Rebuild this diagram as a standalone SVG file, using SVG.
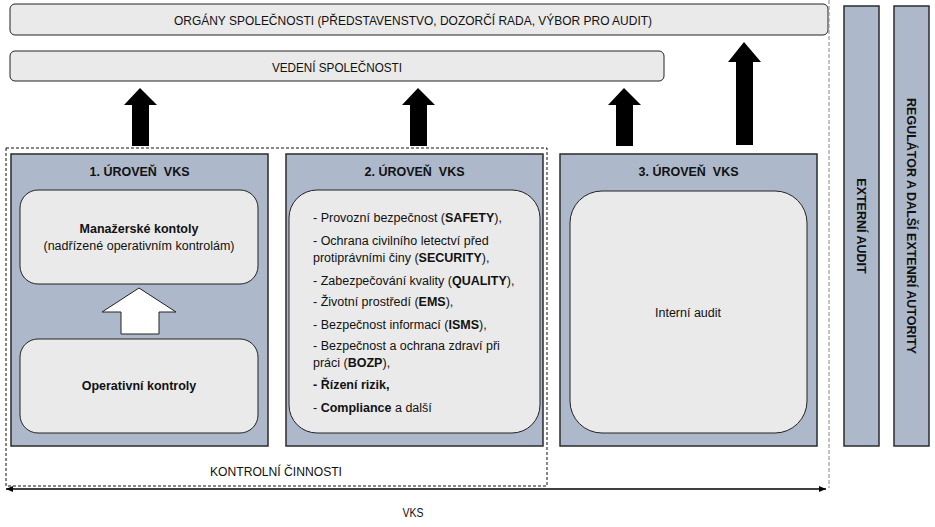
<svg xmlns="http://www.w3.org/2000/svg" width="935" height="527" viewBox="0 0 935 527">
<style>
.top{fill:#eaeaea;stroke:#222;stroke-width:1}
.lvl{fill:#adb9ca;stroke:#2b2b2b;stroke-width:1.5}
.in{fill:#eaeaea;stroke:#222;stroke-width:1}
.nar{font-family:"Liberation Sans Narrow","Liberation Sans",Arial,sans-serif;font-size:13px;fill:#111}
.t{font-family:"Liberation Sans",Arial,sans-serif;font-size:12.5px;fill:#111}
.b{font-weight:bold}
.blk{fill:#000}
</style>
<defs>
<marker id="ah" markerWidth="8" markerHeight="8" refX="7" refY="4" orient="auto-start-reverse" markerUnits="userSpaceOnUse">
<path d="M0,1 L7,4 L0,7 Z" fill="#000"/>
</marker>
</defs>
<g id="organy">
<rect class="top" x="10" y="4" width="818" height="31" rx="5"/>
<text class="nar" x="413" y="24.5" text-anchor="middle" textLength="478" lengthAdjust="spacingAndGlyphs">ORGÁNY SPOLEČNOSTI (PŘEDSTAVENSTVO, DOZORČÍ RADA, VÝBOR PRO AUDIT)</text>
</g>
<g id="vedeni">
<rect class="top" x="10" y="51" width="654" height="30" rx="5"/>
<text class="nar" x="337" y="71.5" text-anchor="middle" textLength="130" lengthAdjust="spacingAndGlyphs">VEDENÍ SPOLEČNOSTI</text>
</g>
<g id="kontrolni">
<rect x="6" y="148" width="541" height="338" fill="none" stroke="#111" stroke-width="1" stroke-dasharray="3,2"/>
<text class="nar" x="276" y="475.5" text-anchor="middle" textLength="132" lengthAdjust="spacingAndGlyphs">KONTROLNÍ ČINNOSTI</text>
</g>
<g id="uroven1">
<rect class="lvl" x="11" y="154" width="257" height="292"/>
<text class="t b" x="139.5" y="176" text-anchor="middle" xml:space="preserve">1. ÚROVEŇ  VKS</text>
<rect class="in" x="20" y="190" width="238" height="94" rx="18"/>
<text class="t b" x="139" y="233" text-anchor="middle">Manažerské kontoly</text>
<text class="t" x="139" y="250" text-anchor="middle">(nadřízené operativním kontrolám)</text>
<path d="M139,288 L176,312 L159,312 L159,334 L121,334 L121,312 L102,312 Z" fill="#fff" stroke="#222" stroke-width="1"/>
<rect class="in" x="20" y="339" width="238" height="94" rx="18"/>
<text class="t b" x="139" y="390" text-anchor="middle">Operativní kontroly</text>
</g>
<g id="uroven2">
<rect class="lvl" x="286" y="154" width="257" height="292"/>
<text class="t b" x="414.5" y="176" text-anchor="middle" xml:space="preserve">2. ÚROVEŇ  VKS</text>
<rect class="in" x="289" y="190" width="251" height="243" rx="28"/>
<g class="t">
<text x="313" y="222">- Provozní bezpečnost (<tspan class="b">SAFETY</tspan>),</text>
<text x="313" y="245">- Ochrana civilního letectví před</text>
<text x="313" y="262">protiprávními činy (<tspan class="b">SECURITY</tspan>),</text>
<text x="313" y="285">- Zabezpečování kvality (<tspan class="b">QUALITY</tspan>),</text>
<text x="313" y="306">- Životní prostředí (<tspan class="b">EMS</tspan>),</text>
<text x="313" y="329">- Bezpečnost informací (<tspan class="b">ISMS</tspan>),</text>
<text x="313" y="350">- Bezpečnost a ochrana zdraví při</text>
<text x="313" y="367">práci (<tspan class="b">BOZP</tspan>),</text>
<text x="313" y="389" class="b">- Řízení rizik,</text>
<text x="313" y="412">- <tspan class="b">Compliance</tspan> a další</text>
</g>
</g>
<g id="uroven3">
<rect class="lvl" x="560" y="154" width="257" height="292"/>
<text class="t b" x="688.5" y="176" text-anchor="middle" xml:space="preserve">3. ÚROVEŇ  VKS</text>
<rect class="in" x="570" y="191" width="237" height="242" rx="32"/>
<text class="t" x="688" y="317" text-anchor="middle">Interní audit</text>
</g>
<g id="externi-audit">
<rect class="lvl" x="844" y="6" width="35" height="440"/>
<text class="t b" transform="translate(857,226) rotate(90)" text-anchor="middle">EXTERNÍ AUDIT</text>
</g>
<g id="regulator">
<rect class="lvl" x="894" y="6" width="35" height="440"/>
<text class="t b" transform="translate(907,226) rotate(90)" text-anchor="middle">REGULÁTOR A DALŠÍ EXTENRÍ AUTORITY</text>
</g>
<g id="connectors">
<line x1="829" y1="0" x2="829" y2="488" stroke="#888" stroke-width="1" stroke-dasharray="4,2"/>
<path class="blk" d="M140,88 L157,105 L149,105 L149,146 L132,146 L132,105 L124,105 Z"/>
<path class="blk" d="M418,88 L435,105 L427,105 L427,146 L410,146 L410,105 L402,105 Z"/>
<path class="blk" d="M624,88 L641,105 L633,105 L633,146 L616,146 L616,105 L608,105 Z"/>
<path class="blk" d="M744,42 L761,62 L753,62 L753,145 L736,145 L736,62 L728,62 Z"/>
<line x1="6" y1="489" x2="826" y2="489" stroke="#000" stroke-width="1.3" marker-start="url(#ah)" marker-end="url(#ah)"/>
<text class="nar" x="413" y="517" text-anchor="middle" textLength="21" lengthAdjust="spacingAndGlyphs">VKS</text>
</g>
</svg>
